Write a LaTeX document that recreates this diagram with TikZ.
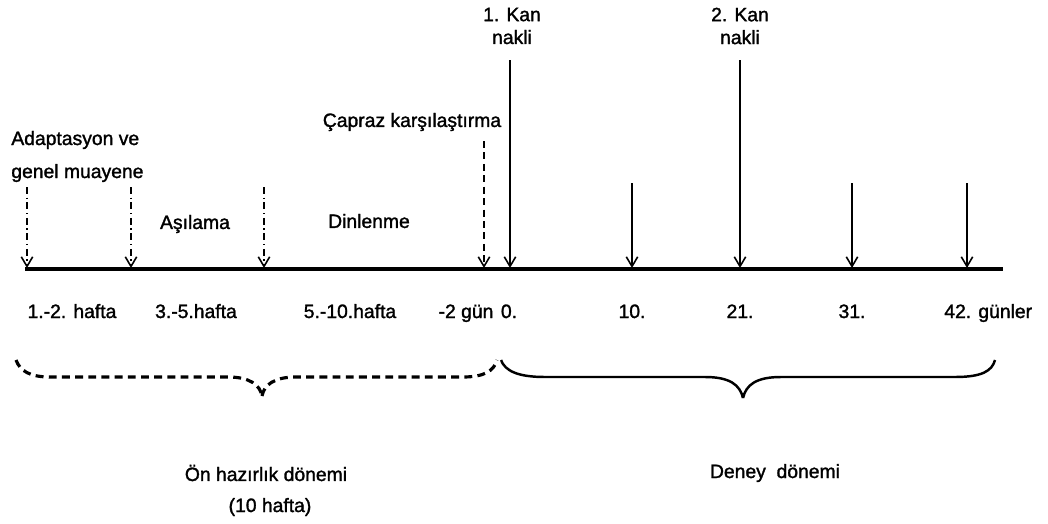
\documentclass[tikz,border=0pt]{standalone}
\usepackage{fontspec}
\setmainfont{Liberation Sans}[FakeBold=1.5]
\usetikzlibrary{arrows.meta}
\begin{document}
\begin{tikzpicture}[x=0.02cm,y=-0.02cm,
  lbl/.style={inner sep=0pt,font=\fontsize{11}{13}\selectfont},
  axis/.style={line width=2.4pt},
  tip/.style={-{Straight Barb[length=5.5pt,width=6.5pt,line width=0.9pt]}},
  solidarrow/.style={tip,line width=1pt},
  dasharrow/.style={tip,line width=1pt,dash pattern=on 4pt off 2.5pt},
  dotdasharrow/.style={tip,line width=1pt,dash pattern=on 4pt off 2pt on 0.8pt off 2pt},
  dashedbrace/.style={line width=1.8pt,dash pattern=on 4.5pt off 3pt},
  solidbrace/.style={line width=1.4pt}]
\useasboundingbox (0,0) rectangle (1048,524);

% timeline
\coordinate (t0) at (25,269);
\coordinate (t1) at (1003,269);
\draw[axis] (t0) -- (t1);

% points on the timeline
\foreach \n/\x in {a/27,b/131,c/264,d/484,e/510,f/632,g/740,h/852,i/967}
  \coordinate (p\n) at (\x,268);

% arrow start points
\coordinate (sa) at (27,187);
\coordinate (sb) at (131,187);
\coordinate (sc) at (264,187);
\coordinate (sd) at (484,141);
\coordinate (se) at (510,60);
\coordinate (sf) at (632,183);
\coordinate (sg) at (740,60);
\coordinate (sh) at (852,183);
\coordinate (si) at (967,183);

\draw[dotdasharrow] (sa) -- (pa);
\draw[dotdasharrow] (sb) -- (pb);
\draw[dotdasharrow] (sc) -- (pc);
\draw[dasharrow] (sd) -- (pd);
\foreach \n in {e,f,g,h,i}
  \draw[solidarrow] (s\n) -- (p\n);

% labels above the timeline
\node[lbl,anchor=base west] (adapt1) at (11,145) {Adaptasyon ve};
\node[lbl,anchor=base west] (adapt2) at (11,178) {genel muayene};
\node[lbl] (asi) at (195,224) {Aşılama};
\node[lbl] (din) at (369,221) {Dinlenme};
\node[lbl] (capraz) at (412,122) {Çapraz karşılaştırma};
\node[lbl,align=center] (kan1) at (512,26) {1. Kan\\nakli};
\node[lbl,align=center] (kan2) at (740,26) {2. Kan\\nakli};

% labels below the timeline
\node[lbl,anchor=base] (w12) at (72,318) {1.-2. hafta};
\node[lbl,anchor=base] (w35) at (196,318) {3.-5.hafta};
\node[lbl,anchor=base] (w510) at (350,318) {5.-10.hafta};
\node[lbl,anchor=base] (m2) at (466,318) {-2 gün};
\node[lbl,anchor=base] (d0) at (509,318) {0.};
\node[lbl,anchor=base] (d10) at (632,318) {10.};
\node[lbl,anchor=base] (d21) at (740,318) {21.};
\node[lbl,anchor=base] (d31) at (852,318) {31.};
\node[lbl,anchor=base west] (d42) at (944,318) {42. günler};

% braces
\draw[dashedbrace] (16,360) .. controls (20,371) and (30,377) .. (50,377)
  -- (228,377) .. controls (250,377) and (260,385) .. (262,396);
\draw[dashedbrace] (262,396) .. controls (264,385) and (274,377) .. (296,377)
  -- (463,377) .. controls (484,377) and (494,371) .. (497,360);
\draw[solidbrace] (501,360) .. controls (505,371) and (518,377) .. (545,377)
  -- (705,377) .. controls (730,377) and (740,385) .. (743,398);
\draw[solidbrace] (743,398) .. controls (746,385) and (756,377) .. (781,377)
  -- (955,377) .. controls (982,377) and (992,371) .. (995,360);

% period labels
\node[lbl] (on) at (266,473) {Ön hazırlık dönemi};
\node[lbl] (onw) at (270,507) {(10 hafta)};
\node[lbl] (deney) at (775,473) {Deney\ \ dönemi};
\end{tikzpicture}
\end{document}
